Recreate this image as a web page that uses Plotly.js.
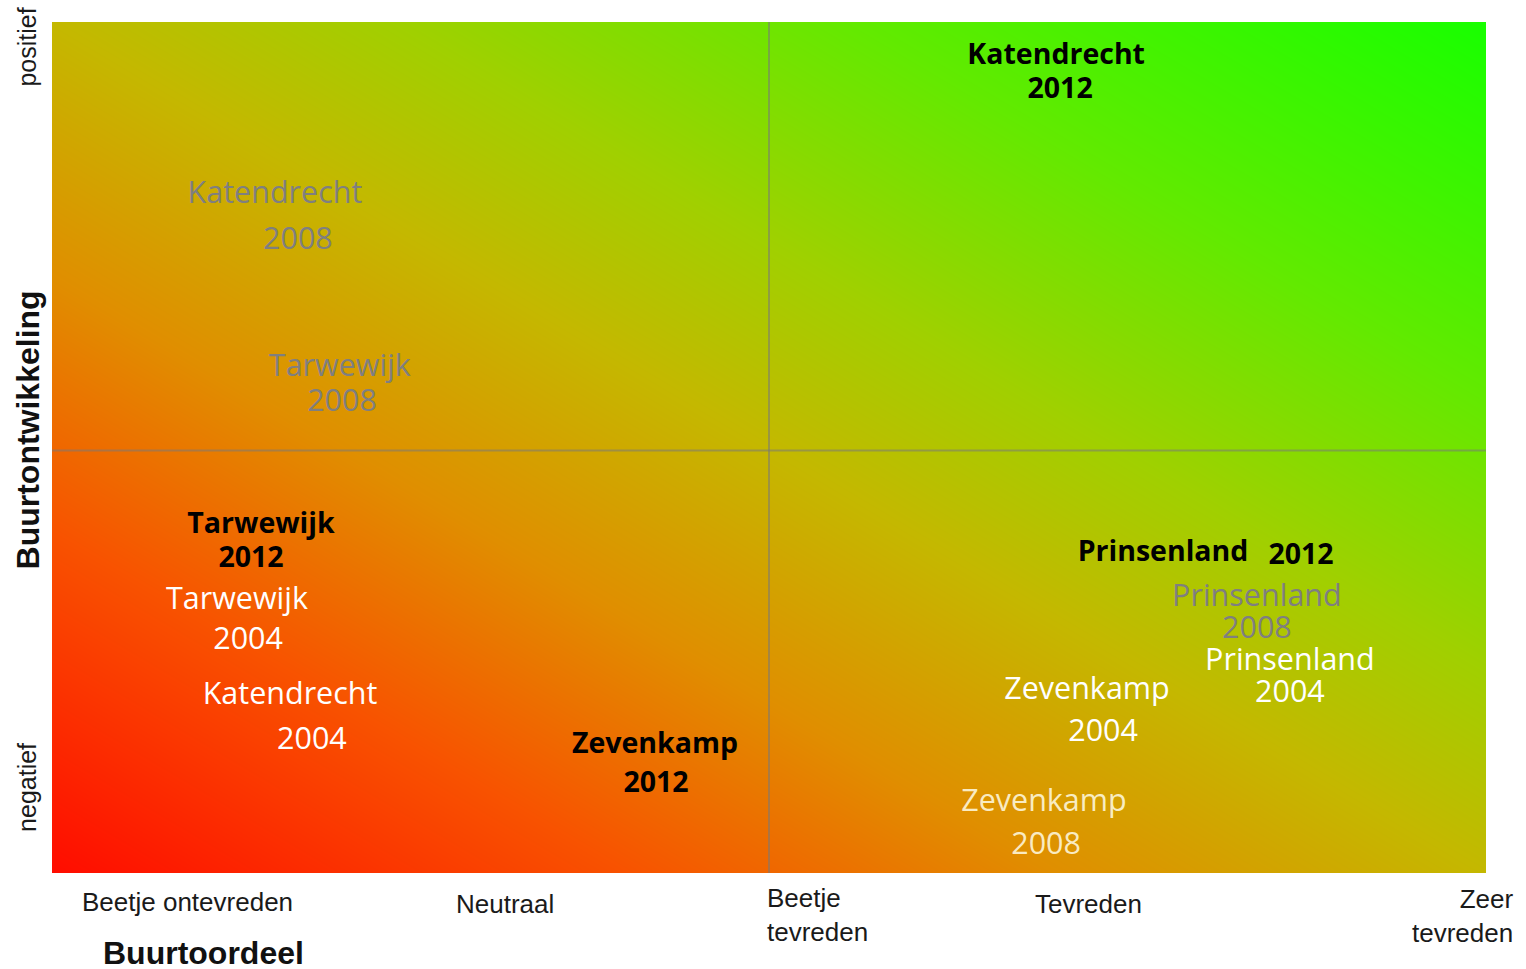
<!DOCTYPE html>
<html>
<head>
<meta charset="utf-8">
<script src="https://cdn.plot.ly/plotly-3.0.1.min.js"></script>
<style>
  html, body { margin: 0; padding: 0; background: #ffffff; }
  #chart { width: 1526px; height: 969px; }
</style>
</head>
<body>
<div id="chart"></div>
<script>
// ---- Data ----
const buurten = ['Katendrecht', 'Tarwewijk', 'Zevenkamp', 'Prinsenland'];
const jaren = ['2004', '2008', '2012'];

// Buurtoordeel (x) and Buurtontwikkeling (y) of each neighbourhood name label, per year
const oordeel2004 = [0.664, 0.516, 2.887, 3.453];
const ontwikkeling2004 = [0.415, 0.638, 0.427, 0.495];
const oordeel2008 = [0.622, 0.803, 2.767, 3.361];
const ontwikkeling2008 = [1.592, 1.186, 0.164, 0.645];
const oordeel2012 = [2.801, 0.583, 1.682, 3.099];
const ontwikkeling2012 = [1.919, 0.815, 0.298, 0.751];

// Position of the year text under (or beside) each name
const jaarX2004 = [0.725, 0.547, 2.932, 3.453];
const jaarY2004 = [0.309, 0.544, 0.328, 0.420];
const jaarX2008 = [0.686, 0.809, 2.773, 3.361];
const jaarY2008 = [1.484, 1.104, 0.063, 0.570];
const jaarX2012 = [2.812, 0.555, 1.685, 3.484];
const jaarY2012 = [1.837, 0.737, 0.208, 0.744];

// Axis categories
const oordeelLabels = ['Beetje ontevreden', 'Neutraal', 'Beetje<br>tevreden', 'Tevreden', 'Zeer<br>tevreden'];
const oordeelPos = [0.377, 1.264, 2.0, 2.89, 4.0];
const ontwikkelingLabels = ['negatief', 'positief'];
const ontwikkelingPos = [0.2, 1.94];
const middenOordeel = 2.0;
const middenOntwikkeling = 0.993;

// Background gradient corner values (negatief/ontevreden -> positief/tevreden)
const gradX = [0, 4];
const gradY = [0, 2];
const gradZ = [[0, 1], [1, 2]];

// ---- Traces ----
const background = {
  type: 'heatmap',
  x: gradX, y: gradY, z: gradZ,
  zsmooth: 'best',
  showscale: false,
  hoverinfo: 'skip',
  colorscale: [
    [0.0, '#ff0c00'],
    [0.2, '#f85200'],
    [0.35, '#e08e00'],
    [0.5, '#c4b800'],
    [0.62, '#a0d000'],
    [0.78, '#62ea00'],
    [1.0, '#18ff00']
  ]
};

function labelTrace(xs, ys, jx, jy, jaar, font) {
  return {
    type: 'scatter', mode: 'text',
    x: xs.concat(jx), y: ys.concat(jy),
    text: buurten.concat(buurten.map(() => jaar)),
    textposition: 'middle center',
    textfont: font,
    hoverinfo: 'skip', showlegend: false, cliponaxis: false
  };
}

const grey = '#7f7f80';
const pale = 'rgba(255,252,230,0.85)';
const t2004 = labelTrace(oordeel2004, ontwikkeling2004, jaarX2004, jaarY2004, '2004',
  { family: 'Open Sans, sans-serif', size: 30.5, color: '#ffffff' });
const t2008 = labelTrace(oordeel2008, ontwikkeling2008, jaarX2008, jaarY2008, '2008',
  { family: 'Open Sans, sans-serif', size: 30.5,
    color: [grey, grey, pale, grey, grey, grey, pale, grey] });
const t2012 = labelTrace(oordeel2012, ontwikkeling2012, jaarX2012, jaarY2012, '2012',
  { family: 'Open Sans, sans-serif', size: 28.5, color: '#000000', weight: 'bold' });

// ---- Annotations (axis text) ----
const axisFont = { family: 'Liberation Sans, Arial, sans-serif', size: 26, color: '#1a1a1a' };
const annotations = [];
oordeelLabels.forEach((lab, i) => {
  let xanchor = 'center', align = 'center', xshift = 0, yshift = -14;
  if (i === 0) { yshift = -12; }
  if (i === 2) { xanchor = 'left'; align = 'left'; xshift = -4; yshift = -8; }
  if (i === 4) { xanchor = 'right'; align = 'right'; xshift = 30; yshift = -9; }
  annotations.push({
    xref: 'x', yref: 'paper', x: oordeelPos[i], y: 0, yshift: yshift,
    xanchor: xanchor, yanchor: 'top', align: align, xshift: xshift,
    text: lab, showarrow: false, font: axisFont
  });
});
ontwikkelingLabels.forEach((lab, i) => {
  annotations.push({
    xref: 'paper', yref: 'y', x: 0, xshift: -25, y: ontwikkelingPos[i],
    xanchor: 'center', yanchor: 'middle', textangle: -90,
    text: lab, showarrow: false,
    font: { family: 'Liberation Sans, Arial, sans-serif', size: 25, color: '#1a1a1a' }
  });
});
annotations.push({
  xref: 'paper', yref: 'paper', x: 0, xshift: -24, y: 0.52,
  xanchor: 'center', yanchor: 'middle', textangle: -90,
  text: '<b>Buurtontwikkeling</b>', showarrow: false,
  font: { family: 'Liberation Sans, Arial, sans-serif', size: 32, color: '#111111' }
});
annotations.push({
  xref: 'paper', yref: 'paper', x: 0, xshift: 151, y: 0, yshift: -60,
  xanchor: 'center', yanchor: 'top',
  text: '<b>Buurtoordeel</b>', showarrow: false,
  font: { family: 'Liberation Sans, Arial, sans-serif', size: 32, color: '#111111' }
});

const lineStyle = { color: 'rgba(120,120,120,0.55)', width: 2 };
const layout = {
  width: 1526, height: 969,
  margin: { l: 52, r: 40, t: 22, b: 96 },
  paper_bgcolor: '#ffffff', plot_bgcolor: '#ffffff',
  showlegend: false,
  xaxis: { range: [0, 4], showgrid: false, zeroline: false, showticklabels: false, ticks: '', fixedrange: true },
  yaxis: { range: [0, 2], showgrid: false, zeroline: false, showticklabels: false, ticks: '', fixedrange: true },
  shapes: [
    { type: 'line', xref: 'x', yref: 'y', x0: middenOordeel, x1: middenOordeel, y0: 0, y1: 2, line: lineStyle, layer: 'above' },
    { type: 'line', xref: 'x', yref: 'y', x0: 0, x1: 4, y0: middenOntwikkeling, y1: middenOntwikkeling, line: lineStyle, layer: 'above' }
  ],
  annotations: annotations
};

Plotly.newPlot('chart', [background, t2004, t2008, t2012], layout, { staticPlot: true, displayModeBar: false });
</script>
</body>
</html>
